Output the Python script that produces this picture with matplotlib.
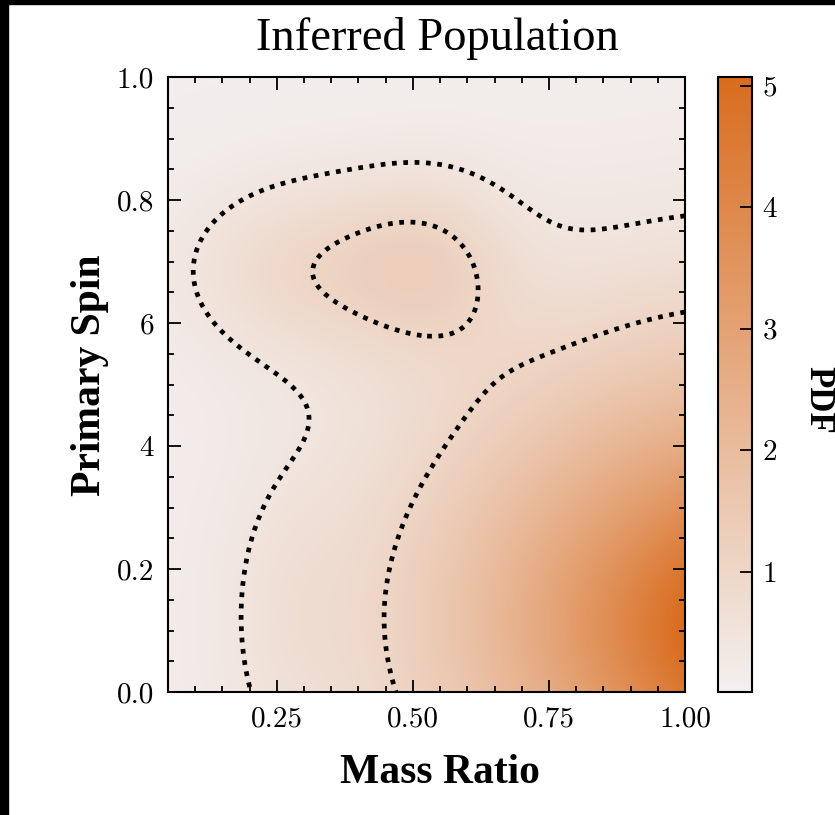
import numpy as np
import matplotlib
matplotlib.use('Agg')
import matplotlib.pyplot as plt
from matplotlib.colors import LinearSegmentedColormap, Normalize
from matplotlib.patches import Rectangle
from matplotlib.ticker import MultipleLocator, FixedLocator, FixedFormatter

# ---- density model ----
# main low-spin / high-mass-ratio component: amp * q**power * N(spin; mu, sigma)
main_amp = 1.5177
main_q_power = 4.7417
main_spin_mu = 0.0845
main_spin_sigma = 0.1559
# extra Gaussian bumps
blob_amp = [3.7129, 0.7903, 0.2219, 0.5934]
blob_q = [1.1355, 0.3228, 0.2702, 0.5372]
blob_spin = [0.1244, 0.6902, 0.1219, 0.6979]
blob_q_sigma = [0.4113, 0.1737, 0.0722, 0.1090]
blob_spin_sigma = [0.3054, 0.1068, 0.1531, 0.1068]
pdf_floor = 0.0773
contour_levels = [0.4433, 1.0356]

q_range = [0.05, 1.0]
spin_range = [0.0, 1.0]
pdf_range = [0.01, 5.07]
cbar_ticks = [1, 2, 3, 4, 5]
x_ticks = [0.25, 0.5, 0.75, 1.0]
x_ticklabels = ['0.25', '0.50', '0.75', '1.00']
y_ticks = [0.0, 0.2, 0.4, 0.6, 0.8, 1.0]
y_ticklabels = ['0.0', '0.2', '4', '6', '0.8', '1.0']


def pdf(q, c):
    f = main_amp * q**main_q_power * np.exp(-0.5*((c-main_spin_mu)/main_spin_sigma)**2)
    for a, q0, c0, sq, sc in zip(blob_amp, blob_q, blob_spin, blob_q_sigma, blob_spin_sigma):
        f = f + a*np.exp(-0.5*((q-q0)/sq)**2 - 0.5*((c-c0)/sc)**2)
    return f + pdf_floor


Q, C = np.meshgrid(np.linspace(q_range[0], q_range[1], 400), np.linspace(spin_range[0], spin_range[1], 400))
F = pdf(Q, C)

cmap = LinearSegmentedColormap.from_list('pdf', ['#f3f0f0', '#d96c1e'])
plt.rcParams['font.family'] = 'cmr10'
plt.rcParams['axes.formatter.use_mathtext'] = True

fig = plt.figure(figsize=(8.35, 8.15), dpi=100)
fig.patches.append(Rectangle((0, 0), 8/835, 1, transform=fig.transFigure, color='black', zorder=10))
fig.patches.append(Rectangle((0, 1-4/815), 1, 4/815, transform=fig.transFigure, color='black', zorder=10))
ax = fig.add_axes([168/835, 123/815, 517/835, 615/815])
cax = fig.add_axes([718/835, 123/815, 34/835, 615/815])

im = ax.imshow(F, extent=[q_range[0], q_range[1], spin_range[0], spin_range[1]], origin='lower',
               aspect='auto', cmap=cmap, norm=Normalize(pdf_range[0], pdf_range[1]), interpolation='bilinear')
ax.contour(Q, C, F, levels=contour_levels, colors='k', linewidths=3.4, linestyles=[(0, (1.0, 1.4))])
ax.set_xlim(*q_range)
ax.set_ylim(*spin_range)
ax.xaxis.set_major_locator(FixedLocator(x_ticks))
ax.xaxis.set_major_formatter(FixedFormatter(x_ticklabels))
ax.xaxis.set_minor_locator(MultipleLocator(0.05))
ax.yaxis.set_major_locator(FixedLocator(y_ticks))
ax.yaxis.set_major_formatter(FixedFormatter(y_ticklabels))
ax.yaxis.set_minor_locator(MultipleLocator(0.05))
ax.tick_params(which='both', direction='in', top=True, right=True, labelsize=21, width=1.3)
ax.tick_params(which='major', length=9, pad=10)
ax.tick_params(which='minor', length=4.5)
for s in ax.spines.values():
    s.set_linewidth(1.5)

cb = fig.colorbar(im, cax=cax)
cb.set_ticks(cbar_ticks)
cb.ax.tick_params(direction='in', length=9, width=1.3, labelsize=21, pad=7)
cb.outline.set_linewidth(1.5)

fig.text(437/835, 1-38/815, 'Inferred Population', ha='center', va='center', fontsize=33.5,
         family='Liberation Serif')
ax.set_xlabel('Mass Ratio', fontsize=30, fontweight='bold', family='Liberation Serif')
ax.xaxis.set_label_coords((440-168)/517, (692-773)/615)
ax.xaxis.label.set_va('center')
ax.set_ylabel('Primary Spin', fontsize=30, fontweight='bold', family='Liberation Serif')
ax.yaxis.set_label_coords((90-168)/517, (692-375)/615)
ax.yaxis.label.set_va('center')
cb.set_label('PDF', fontsize=25, fontweight='bold', family='Liberation Serif', rotation=270)
cb.ax.yaxis.set_label_coords((818-718)/34, (692-400)/615)
cb.ax.yaxis.label.set_va('center')

fig.savefig('out.png', dpi=100)
